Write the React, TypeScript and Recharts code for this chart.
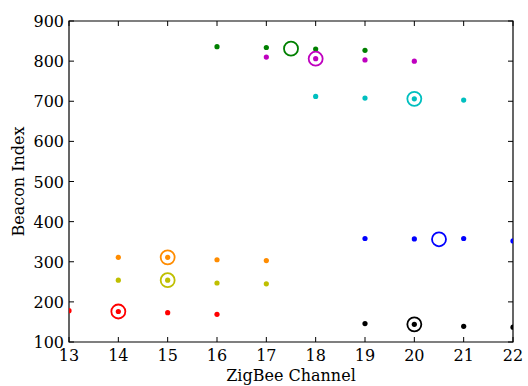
import React from 'react';
import {
  ScatterChart,
  Scatter,
  XAxis,
  YAxis,
  ReferenceArea,
} from 'recharts';

// beacon index seen on each channel, one list per device
const greenPts = [
  { ch: 16, idx: 836 },
  { ch: 17, idx: 834 },
  { ch: 18, idx: 830 },
  { ch: 19, idx: 827 },
];
const magentaPts = [
  { ch: 17, idx: 810 },
  { ch: 18, idx: 806 },
  { ch: 19, idx: 803 },
  { ch: 20, idx: 800 },
];
const cyanPts = [
  { ch: 18, idx: 712 },
  { ch: 19, idx: 708 },
  { ch: 20, idx: 706 },
  { ch: 21, idx: 703 },
];
const bluePts = [
  { ch: 19, idx: 358 },
  { ch: 20, idx: 357 },
  { ch: 21, idx: 358 },
  { ch: 22, idx: 352 },
];
const orangePts = [
  { ch: 14, idx: 311 },
  { ch: 15, idx: 311 },
  { ch: 16, idx: 305 },
  { ch: 17, idx: 303 },
];
const olivePts = [
  { ch: 14, idx: 254 },
  { ch: 15, idx: 254 },
  { ch: 16, idx: 247 },
  { ch: 17, idx: 245 },
];
const redPts = [
  { ch: 13, idx: 178 },
  { ch: 14, idx: 176 },
  { ch: 15, idx: 173 },
  { ch: 16, idx: 169 },
];
const blackPts = [
  { ch: 19, idx: 146 },
  { ch: 20, idx: 144 },
  { ch: 21, idx: 139 },
  { ch: 22, idx: 137 },
];

// center of each group (open rings)
const centers = [
  { ch: 17.5, idx: 831, color: '#008000' },
  { ch: 18, idx: 806, color: '#bf00bf' },
  { ch: 20, idx: 706, color: '#00bfbf' },
  { ch: 20.5, idx: 356, color: '#0000ff' },
  { ch: 15, idx: 311, color: '#ff8c00' },
  { ch: 15, idx: 254, color: '#bfbf00' },
  { ch: 14, idx: 176, color: '#ff0000' },
  { ch: 20, idx: 144, color: '#000000' },
];

const xTicks = [13, 14, 15, 16, 17, 18, 19, 20, 21, 22];
const yTicks = [100, 200, 300, 400, 500, 600, 700, 800, 900];

const groups = [
  { name: 'green', color: '#008000', data: greenPts },
  { name: 'magenta', color: '#bf00bf', data: magentaPts },
  { name: 'cyan', color: '#00bfbf', data: cyanPts },
  { name: 'blue', color: '#0000ff', data: bluePts },
  { name: 'orange', color: '#ff8c00', data: orangePts },
  { name: 'olive', color: '#bfbf00', data: olivePts },
  { name: 'red', color: '#ff0000', data: redPts },
  { name: 'black', color: '#000000', data: blackPts },
];

const W = 528;
const H = 386;
const MARGIN = { top: 21, right: 15, bottom: 0, left: 0 };
const Y_AXIS_W = 69;
const X_AXIS_H = 44;
const PLOT_LEFT = MARGIN.left + Y_AXIS_W;
const PLOT_RIGHT = W - MARGIN.right;
const PLOT_TOP = MARGIN.top;
const PLOT_BOTTOM = H - MARGIN.bottom - X_AXIS_H;
const TICK_LEN = 5;
const FONT = "'DejaVu Serif', serif";
const FS = 16;

const XTick = (props: any) => {
  const { x, payload } = props;
  return (
    <g>
      <line x1={x} x2={x} y1={PLOT_BOTTOM} y2={PLOT_BOTTOM - TICK_LEN} stroke="#000" />
      <line x1={x} x2={x} y1={PLOT_TOP} y2={PLOT_TOP + TICK_LEN} stroke="#000" />
      <text x={x} y={PLOT_BOTTOM + 19} textAnchor="middle" fontSize={FS} fontFamily={FONT} fill="#000">
        {payload.value}
      </text>
    </g>
  );
};

const YTick = (props: any) => {
  const { y, payload } = props;
  return (
    <g>
      <line x1={PLOT_LEFT} x2={PLOT_LEFT + TICK_LEN} y1={y} y2={y} stroke="#000" />
      <line x1={PLOT_RIGHT} x2={PLOT_RIGHT - TICK_LEN} y1={y} y2={y} stroke="#000" />
      <text x={PLOT_LEFT - 5} y={y + 6} textAnchor="end" fontSize={FS} fontFamily={FONT} fill="#000">
        {payload.value}
      </text>
    </g>
  );
};

const dot = (color: string) => (props: any) =>
  <circle cx={props.cx} cy={props.cy} r={2.6} fill={color} />;

const ring = (props: any) =>
  <circle cx={props.cx} cy={props.cy} r={7} fill="none" stroke={props.payload.color} strokeWidth={1.8} />;

export default function App() {
  return (
    <div style={{ position: 'absolute', left: 0, top: 0, background: '#fff' }}>
      <ScatterChart width={W} height={H} margin={MARGIN}>
        <XAxis
          type="number"
          dataKey="ch"
          domain={[13, 22]}
          ticks={xTicks}
          allowDataOverflow
          height={X_AXIS_H}
          tickLine={false}
          axisLine={false}
          tick={XTick}
          label={{ value: 'ZigBee Channel', position: 'insideBottom', offset: 5, fontSize: FS, fontFamily: FONT, fill: '#000' }}
        />
        <YAxis
          type="number"
          dataKey="idx"
          domain={[100, 900]}
          ticks={yTicks}
          allowDataOverflow
          width={Y_AXIS_W}
          tickLine={false}
          axisLine={false}
          tick={YTick}
          label={{ value: 'Beacon Index', angle: -90, position: 'insideLeft', offset: 18, fontSize: FS, fontFamily: FONT, fill: '#000', style: { textAnchor: 'middle' } }}
        />
        <ReferenceArea x1={13} x2={22} y1={100} y2={900} fill="none" stroke="#000" strokeWidth={1.2} fillOpacity={0} />
        {groups.map((g) => (
          <Scatter key={g.name} name={g.name} data={g.data} shape={dot(g.color)} isAnimationActive={false} />
        ))}
        <Scatter name="centers" data={centers} shape={ring} isAnimationActive={false} />
      </ScatterChart>
    </div>
  );
}
